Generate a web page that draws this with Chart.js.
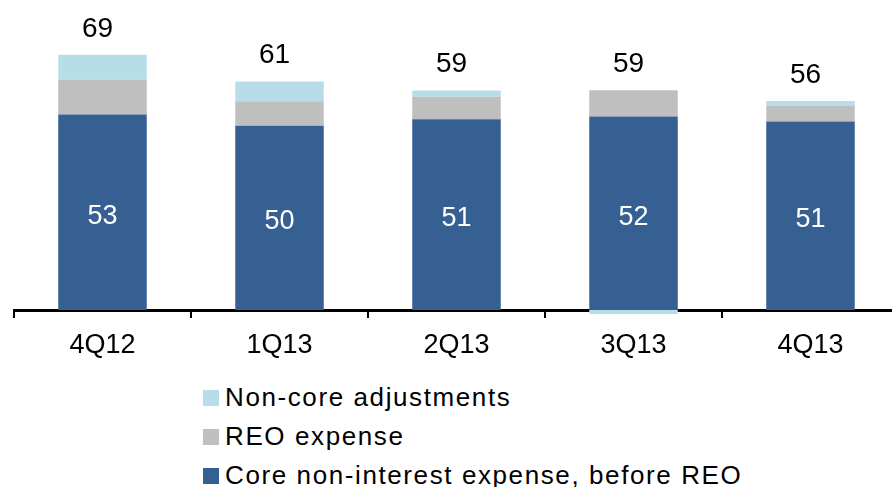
<!DOCTYPE html>
<html>
<head>
<meta charset="utf-8">
<script src="https://cdn.jsdelivr.net/npm/chart.js@4/dist/chart.umd.min.js"></script>
<style>
body{margin:0;overflow:hidden;background:#fff;font-family:"Liberation Sans",Arial,sans-serif;}
#wrap{position:relative;width:899px;height:487px;}
#box{position:absolute;left:0;top:0;width:899px;height:362px;}
#legend{position:absolute;left:203px;top:378px;}
.item{height:39px;display:flex;align-items:center;font-size:26px;letter-spacing:1.6px;color:#000;white-space:nowrap;}
.sw{width:16px;height:16px;margin-right:6px;flex:none;}
</style>
</head>
<body>
<div id="wrap">
  <div id="box"><canvas id="c"></canvas></div>
  <div id="legend"></div>
</div>
<script>
var quarters = ['4Q12', '1Q13', '2Q13', '3Q13', '4Q13'];
var coreExp = [53, 50, 51.7, 52.5, 51.1];
var reoExp = [9.5, 6.6, 6.1, 7.1, 4.2];
var nonCore = [6.7, 5.4, 1.7, -1.1, 1.4];
var coreLabels = ['53', '50', '51', '52', '51'];
var totalLabels = ['69', '61', '59', '59', '56'];

var seriesNames = ['Core non-interest expense, before REO', 'REO expense', 'Non-core adjustments'];
var seriesColors = ['#366092', '#BFBFBF', '#B7DEE8'];

// numbers on the bars
var labelPlugin = {
    id: 'barLabels',
    afterDatasetsDraw: function(chart){
        var ctx = chart.ctx;
        var y = chart.scales.y;
        var core = chart.getDatasetMeta(0);
        ctx.save();
        ctx.textAlign = 'center';
        ctx.textBaseline = 'middle';
        ctx.fillStyle = '#fff';
        ctx.font = '27px "Liberation Sans", Arial, sans-serif';
        core.data.forEach(function(bar, i){
            ctx.fillText(coreLabels[i], bar.x, (bar.y + bar.base) / 2 + 4);
        });
        ctx.fillStyle = '#000';
        ctx.font = '28px "Liberation Sans", Arial, sans-serif';
        core.data.forEach(function(bar, i){
            var top = coreExp[i] + Math.max(reoExp[i], 0) + Math.max(nonCore[i], 0);
            ctx.fillText(totalLabels[i], bar.x - 5, y.getPixelForValue(top) - 26);
        });
        ctx.restore();
    }
};

var datasets = [coreExp, reoExp, nonCore].map(function(d, i){
    return {
        label: seriesNames[i],
        data: d,
        backgroundColor: seriesColors[i],
        borderWidth: 0,
        barPercentage: 0.5,
        categoryPercentage: 1,
        clip: false
    };
});

new Chart(document.getElementById('c'), {
    type: 'bar',
    data: { labels: quarters, datasets: datasets },
    plugins: [labelPlugin],
    options: {
        responsive: true,
        maintainAspectRatio: false,
        animation: false,
        layout: { padding: { left: 14, right: 0, top: 15, bottom: 0 } },
        plugins: { legend: { display: false }, tooltip: { enabled: false } },
        scales: {
            x: {
                stacked: true,
                z: 1,
                afterFit: function(s){ s.height = 52; },
                border: { display: true, color: '#000', width: 3 },
                grid: { display: true, offset: true, drawOnChartArea: false, drawTicks: true, tickLength: 8, color: '#000', lineWidth: 2 },
                ticks: { color: '#000', padding: 11, font: { family: '"Liberation Sans", Arial, sans-serif', size: 27 } }
            },
            y: { stacked: true, display: false, min: 0, max: 80 }
        }
    }
});

// legend, top item first
var lg = document.getElementById('legend');
for (var i = seriesNames.length - 1; i >= 0; i--) {
    lg.innerHTML += '<div class="item"><span class="sw" style="background:' + seriesColors[i] + '"></span>' + seriesNames[i] + '</div>';
}
</script>
</body>
</html>
